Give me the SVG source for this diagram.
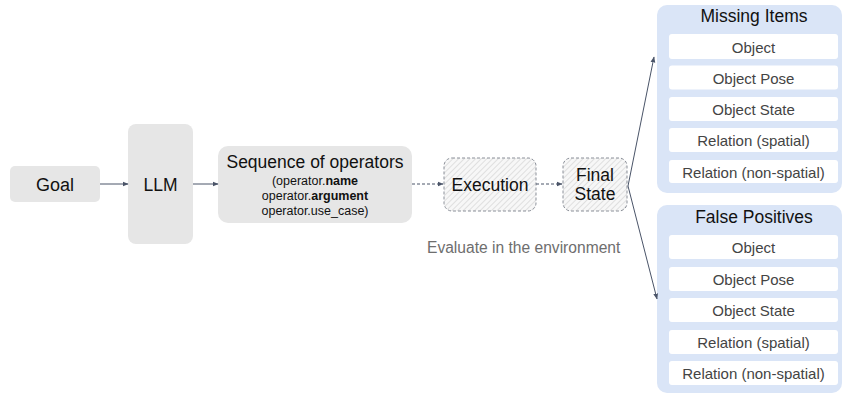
<svg xmlns="http://www.w3.org/2000/svg" width="842" height="393" viewBox="0 0 842 393">
<style>
text{font-family:"Liberation Sans",Arial,sans-serif;}
.gray{fill:#e6e6e6;}
.lbl{font-size:17.5px;fill:#111;text-anchor:middle;}
.sub{font-size:12.5px;fill:#111;text-anchor:middle;}
.hatch{fill:url(#hp);stroke:#8a8f98;stroke-width:1;stroke-dasharray:3 2;}
.panel{fill:#dae5f7;}
.row{fill:#ffffff;}
.rt{font-size:15px;fill:#444;text-anchor:middle;}
.pt{font-size:17.5px;fill:#111;text-anchor:middle;}
.ar{stroke:#4a5468;stroke-width:1;fill:none;marker-end:url(#ah);}
.dash{stroke-dasharray:3 2;}
</style>
<defs>
<pattern id="hp" width="4" height="4" patternUnits="userSpaceOnUse" patternTransform="rotate(45)">
<rect width="4" height="4" fill="#f7f7f7"/>
<line x1="0" y1="0" x2="0" y2="4" stroke="#d8d8d8" stroke-width="1.5"/>
</pattern>
<marker id="ah" viewBox="0 0 10 10" refX="9" refY="5" markerWidth="6" markerHeight="6" orient="auto" markerUnits="userSpaceOnUse">
<path d="M0,1 L10,5 L0,9 z" fill="#4a5468"/>
</marker>
</defs>

<g id="goal"><rect class="gray" x="10" y="166" width="90" height="36" rx="5"/><text class="lbl" x="55" y="191" style="font-size:18px">Goal</text></g>
<g id="llm"><rect class="gray" x="128" y="124" width="65" height="120" rx="8"/><text class="lbl" x="160.5" y="191">LLM</text></g>
<g id="seq"><rect class="gray" x="218" y="146" width="194" height="77" rx="10"/>
<text class="lbl" x="315" y="168" style="font-size:17.5px">Sequence of operators</text>
<text class="sub" x="315" y="185">(operator.<tspan font-weight="bold">name</tspan></text>
<text class="sub" x="315" y="200">operator.<tspan font-weight="bold">argument</tspan></text>
<text class="sub" x="315" y="214.5">operator.use_case)</text></g>
<g id="execution"><rect class="hatch" x="444" y="158" width="92" height="53" rx="8"/><text class="lbl" x="490" y="190.5">Execution</text></g>
<g id="final"><rect class="hatch" x="563" y="158" width="64" height="53" rx="8"/><text class="lbl" x="595" y="181">Final</text><text class="lbl" x="595" y="200">State</text></g>
<g id="evaluate"><text x="427" y="252.5" style="font-size:15.6px;fill:#6e6e6e">Evaluate in the environment</text></g>

<g id="missing">
<rect class="panel" x="657" y="5" width="185" height="188" rx="10"/>
<text class="pt" x="754" y="21.5">Missing Items</text>
<rect class="row" x="669" y="34" width="169" height="25" rx="3"/><text class="rt" x="753.5" y="52.5">Object</text>
<rect class="row" x="669" y="65.5" width="169" height="24" rx="3"/><text class="rt" x="753.5" y="83.5">Object Pose</text>
<rect class="row" x="669" y="97" width="169" height="24" rx="3"/><text class="rt" x="753.5" y="115">Object State</text>
<rect class="row" x="669" y="128" width="169" height="24" rx="3"/><text class="rt" x="753.5" y="146">Relation (spatial)</text>
<rect class="row" x="669" y="160" width="169" height="23" rx="3"/><text class="rt" x="753.5" y="177.5">Relation (non-spatial)</text>
</g>
<g id="falsepos">
<rect class="panel" x="657" y="205" width="185" height="188" rx="10"/>
<text class="pt" x="754" y="223">False Positives</text>
<rect class="row" x="669" y="235" width="169" height="24" rx="3"/><text class="rt" x="753.5" y="253">Object</text>
<rect class="row" x="669" y="267" width="169" height="24" rx="3"/><text class="rt" x="753.5" y="285">Object Pose</text>
<rect class="row" x="669" y="298" width="169" height="24" rx="3"/><text class="rt" x="753.5" y="316">Object State</text>
<rect class="row" x="669" y="330" width="169" height="24" rx="3"/><text class="rt" x="753.5" y="348">Relation (spatial)</text>
<rect class="row" x="669" y="361" width="169" height="24" rx="3"/><text class="rt" x="753.5" y="379">Relation (non-spatial)</text>
</g>

<g id="connectors">
<line class="ar" x1="100" y1="184" x2="128" y2="184"/>
<line class="ar" x1="193" y1="184" x2="218" y2="184"/>
<line class="ar dash" x1="412" y1="184" x2="443" y2="184"/>
<line class="ar dash" x1="536" y1="184" x2="562" y2="184"/>
<line class="ar" x1="628" y1="186" x2="654" y2="57"/>
<line class="ar" x1="628" y1="186" x2="657" y2="299"/>
</g>
</svg>
